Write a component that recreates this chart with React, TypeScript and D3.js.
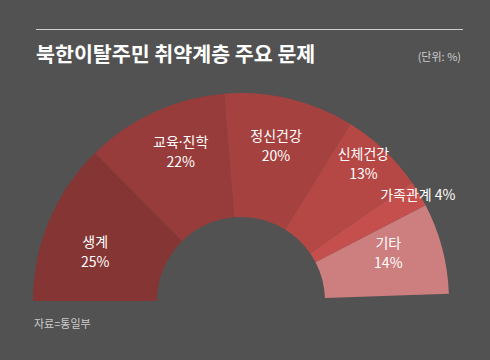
import { useEffect, useRef } from 'react'
import * as d3 from 'd3'

const categories = ['생계', '교육·진학', '정신건강', '신체건강', '가족관계', '기타']
const shares = [25, 22, 20, 13, 4, 14]
const sliceColors = ['#853533', '#973c3a', '#a5423f', '#b54744', '#c44f4c', '#cd7e7e']

const title = '북한이탈주민 취약계층 주요 문제'
const unitLabel = '(단위: %)'
const sourceLabel = '자료=통일부'

// label placement per slice: radius, angle nudge (deg) off the slice middle,
// and whether the label sits on one line (the thin slice)
const labelRadius = [154, 161, 159, 184, 206, 155]
const labelNudge = [-4, 2.6, -0.8, -1.8, 0.2, -3.4]
const inlineLabel = [false, false, false, false, true, false]

const W = 490
const H = 360
const FONT = '"Noto Sans CJK KR", "Noto Sans", sans-serif'

export default function App() {
  const svgRef = useRef<SVGSVGElement>(null)

  useEffect(() => {
    if (!svgRef.current) return
    const svg = d3.select(svgRef.current)
    svg.selectAll('*').remove()

    svg.append('rect').attr('width', W).attr('height', H).attr('fill', '#525252')

    svg.append('line')
      .attr('x1', 36).attr('x2', 463)
      .attr('y1', 29.5).attr('y2', 29.5)
      .attr('stroke', '#cfcfcf')
      .attr('stroke-width', 1)

    svg.append('text')
      .attr('x', 36).attr('y', 62)
      .attr('fill', '#ffffff')
      .attr('font-family', FONT)
      .attr('font-size', 20.6)
      .attr('font-weight', 'bold')
      .text(title)

    svg.append('text')
      .attr('x', 461).attr('y', 61)
      .attr('text-anchor', 'end')
      .attr('fill', '#cccccc')
      .attr('font-family', FONT)
      .attr('font-size', 11)
      .text(unitLabel)

    svg.append('text')
      .attr('x', 34).attr('y', 328)
      .attr('fill', '#cccccc')
      .attr('font-family', FONT)
      .attr('font-size', 11)
      .text(sourceLabel)

    const cx = 241
    const cy = 301
    const inner = 84
    const outer = 208
    const span = (178 / 180) * Math.PI

    const pie = d3.pie<number>()
      .sort(null)
      .value(d => d)
      .startAngle(-Math.PI / 2)
      .endAngle(-Math.PI / 2 + span)

    const arcs = pie(shares)
    const arc = d3.arc<d3.PieArcDatum<number>>().innerRadius(inner).outerRadius(outer)

    const g = svg.append('g').attr('transform', `translate(${cx},${cy})`)

    g.selectAll('path.slice')
      .data(arcs)
      .enter()
      .append('path')
      .attr('class', 'slice')
      .attr('d', arc)
      .attr('fill', (_, i) => sliceColors[i])

    // the CJK font draws "·" full width; take it from a latin face so it stays tight
    const addName = (
      sel: d3.Selection<SVGTSpanElement, unknown, null, undefined>,
      name: string
    ) => {
      const parts = name.split('·')
      parts.forEach((p, k) => {
        if (k > 0) sel.append('tspan').attr('font-family', '"Noto Sans", sans-serif').text('·')
        sel.append('tspan').text(p)
      })
    }

    arcs.forEach((a, i) => {
      const mid = (a.startAngle + a.endAngle) / 2 + (labelNudge[i] * Math.PI) / 180
      const r = labelRadius[i]
      const x = Math.sin(mid) * r
      const y = -Math.cos(mid) * r
      const t = g.append('text')
        .attr('text-anchor', 'middle')
        .attr('fill', '#ffffff')
        .attr('font-family', FONT)
        .attr('font-size', 14)
      if (inlineLabel[i]) {
        t.attr('x', x).attr('y', y + 5).text(`${categories[i]} ${shares[i]}%`)
      } else {
        const line1 = t.append('tspan').attr('x', x).attr('y', y - 5)
        addName(line1, categories[i])
        t.append('tspan').attr('x', x).attr('y', y + 15).text(`${shares[i]}%`)
      }
    })
  }, [])

  return (
    <svg
      ref={svgRef}
      width={W}
      height={H}
      style={{ position: 'absolute', left: 0, top: 0, display: 'block' }}
    />
  )
}
